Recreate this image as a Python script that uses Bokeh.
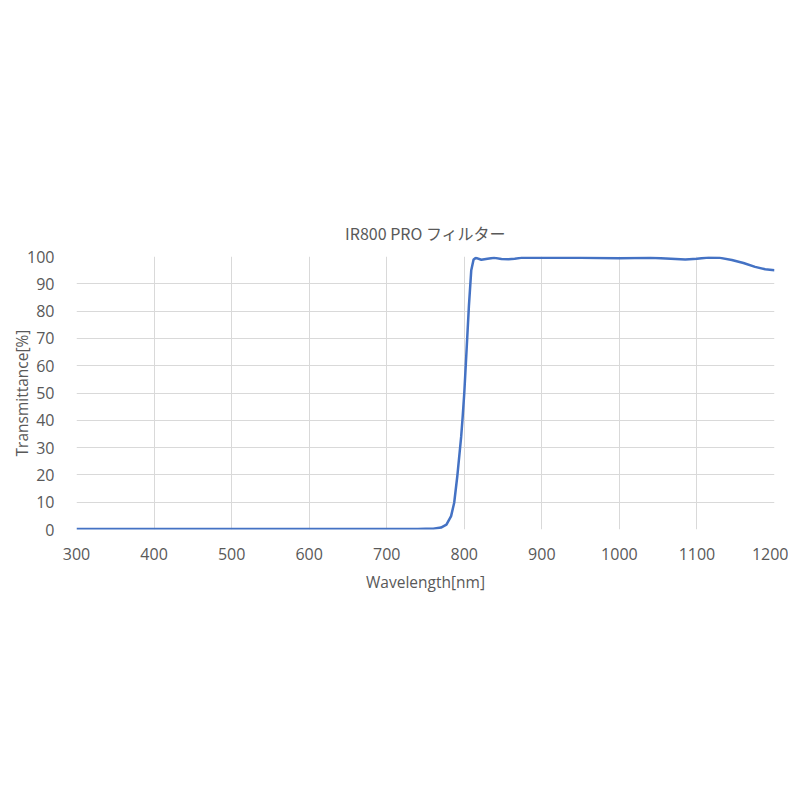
from bokeh.plotting import figure
from bokeh.embed import file_html
from bokeh.resources import INLINE
from bokeh.models import Range1d, FixedTicker

wavelength = [300, 400, 500, 600, 700, 740, 750, 760, 770, 777, 783, 787, 791, 796, 798,
              800, 803, 806, 809, 812, 815, 822, 830, 839, 848, 857, 865, 873, 900, 950,
              1000, 1040, 1060, 1085, 1100, 1115, 1130, 1145, 1160, 1175, 1188, 1200]
transmittance = [0.2, 0.2, 0.2, 0.2, 0.2, 0.2, 0.25, 0.3, 0.7, 1.8, 4.9, 9.8, 19.5, 34, 41.5,
                 50, 66, 82, 95, 98.9, 99.5, 98.8, 99.2, 99.5, 99.1, 99.0, 99.2, 99.5, 99.5, 99.5,
                 99.4, 99.5, 99.3, 98.9, 99.2, 99.6, 99.5, 98.7, 97.6, 96.2, 95.3, 95.0]
x_ticks = [300, 400, 500, 600, 700, 800, 900, 1000, 1100, 1200]
y_ticks = [0, 10, 20, 30, 40, 50, 60, 70, 80, 90, 100]

p = figure(frame_width=698, frame_height=273, output_backend="svg", toolbar_location=None,
           x_range=Range1d(300, 1200), y_range=Range1d(0, 100),
           title="IR800 PRO フィルター")
p.min_border_left = 76
p.min_border_right = 14
p.min_border_top = 256
p.min_border_bottom = 240
p.outline_line_color = None
p.background_fill_color = "white"

p.title.align = "center"
p.title.text_font = "Noto Sans CJK JP"
p.title.text_font_size = "16px"
p.title.text_font_style = "normal"
p.title.text_color = "#595959"
p.title.offset = -4
p.title.standoff = 24

p.line(wavelength, transmittance, line_color="#4472C4", line_width=2.5)

p.xaxis.ticker = FixedTicker(ticks=x_ticks)
p.yaxis.ticker = FixedTicker(ticks=y_ticks)
for ax in (p.xaxis[0], p.yaxis[0]):
    ax.axis_line_color = None
    ax.major_tick_line_color = None
    ax.minor_tick_line_color = None
    ax.major_label_text_font = "Open Sans"
    ax.major_label_text_font_size = "16px"
    ax.major_label_text_color = "#595959"
    ax.axis_label_text_font = "Open Sans"
    ax.axis_label_text_font_size = "15.5px"
    ax.axis_label_text_font_style = "normal"
    ax.axis_label_text_color = "#595959"
p.xaxis.axis_label = "Wavelength[nm]"
p.yaxis.axis_label = "Transmittance[%]"
p.xaxis.major_label_standoff = 12
p.yaxis.major_label_standoff = 16
p.xaxis.axis_label_standoff = 8
p.yaxis.axis_label_standoff = -9

p.xgrid.grid_line_color = "#d9d9d9"
p.ygrid.grid_line_color = "#d9d9d9"
p.xgrid.grid_line_width = 1
p.ygrid.grid_line_width = 1

open("out.html", "w").write(file_html(p, INLINE))
